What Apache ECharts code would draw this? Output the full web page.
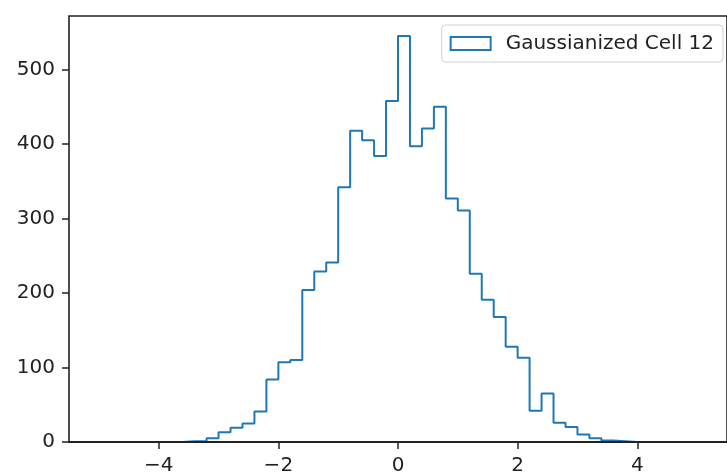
<!DOCTYPE html>
<html>
<head>
<meta charset="utf-8">
<script src="https://cdn.jsdelivr.net/npm/echarts@6/dist/echarts.min.js"></script>
<style>
html,body{margin:0;padding:0;background:#fff;}
#chart{width:727px;height:476px;}
</style>
</head>
<body>
<div id="chart"></div>
<script>
// Histogram bin edges (50 bins, width 0.2)
const binEdges = [-5.0,-4.8,-4.6,-4.4,-4.2,-4.0,-3.8,-3.6,-3.4,-3.2,-3.0,-2.8,-2.6,-2.4,-2.2,-2.0,-1.8,-1.6,-1.4,-1.2,-1.0,-0.8,-0.6,-0.4,-0.2,0.0,0.2,0.4,0.6,0.8,1.0,1.2,1.4,1.6,1.8,2.0,2.2,2.4,2.6,2.8,3.0,3.2,3.4,3.6,3.8,4.0,4.2,4.4,4.6,4.8,5.0];
// Counts per bin
const binCounts = [0,0,0,0,0,0,0,1,1,5,13,19,25,41,84,107,110,204,229,241,342,418,405,384,458,545,397,421,450,327,311,226,191,168,128,113,42,65,26,20,10,5,2,1,0,0,0,0,0,0];
const seriesName = 'Gaussianized Cell 12';
const xTicks = [-4,-2,0,2,4];
const yTicks = [0,100,200,300,400,500];
const xRange = [-5.5, 5.5];
const yRange = [0, 572];

// step path built from the edges and counts
const stepPoints = [[binEdges[0], 0]];
for (let i = 0; i < binCounts.length; i++) {
  stepPoints.push([binEdges[i], binCounts[i]]);
  stepPoints.push([binEdges[i + 1], binCounts[i]]);
}
stepPoints.push([binEdges[binEdges.length - 1], 0]);

const axisColor = '#222';
const font = 'DejaVu Sans';
const chart = echarts.init(document.getElementById('chart'), null, {renderer: 'canvas'});
chart.setOption({
  animation: false,
  backgroundColor: '#ffffff',
  grid: {
    left: 69, top: 16, right: -6, bottom: 29,
    show: true, borderColor: axisColor, borderWidth: 1.6,
    backgroundColor: 'rgba(0,0,0,0)', z: 10
  },
  legend: {
    show: true,
    right: 4, top: 25,
    orient: 'vertical',
    padding: [7, 9, 7, 8],
    backgroundColor: 'rgba(255,255,255,0.8)',
    borderColor: '#d0d0d0',
    borderWidth: 1,
    borderRadius: 4,
    itemWidth: 40,
    itemHeight: 13,
    data: [{
      name: seriesName,
      icon: 'rect',
      itemStyle: {color: 'rgba(255,255,255,0)', borderColor: '#1f77b4', borderWidth: 2}
    }],
    textStyle: {fontFamily: font, fontSize: 20, color: '#222', padding: [0, 0, 0, 10], lineHeight: 23}
  },
  xAxis: {
    type: 'value',
    min: xRange[0], max: xRange[1],
    z: 10,
    axisLine: {show: true, onZero: false, lineStyle: {color: axisColor, width: 2.2}},
    splitLine: {show: false},
    axisTick: {show: true, customValues: xTicks, length: 7, lineStyle: {color: axisColor, width: 1.5}},
    axisLabel: {
      customValues: xTicks,
      margin: 14,
      fontFamily: font, fontSize: 20, color: '#222',
      formatter: v => String(v).replace('-', '\u2212')
    }
  },
  yAxis: {
    type: 'value',
    min: yRange[0], max: yRange[1],
    z: 10,
    axisLine: {show: false, onZero: false},
    splitLine: {show: false},
    axisTick: {show: true, customValues: yTicks, length: 7, lineStyle: {color: axisColor, width: 1.5}},
    axisLabel: {
      customValues: yTicks,
      margin: 14,
      fontFamily: font, fontSize: 20, color: '#222'
    }
  },
  series: [{
    name: seriesName,
    type: 'line',
    data: stepPoints,
    showSymbol: false,
    symbol: 'none',
    smooth: false,
    lineStyle: {color: '#1f77b4', width: 2},
    itemStyle: {color: '#1f77b4'},
    z: 2
  }]
});
</script>
</body>
</html>
